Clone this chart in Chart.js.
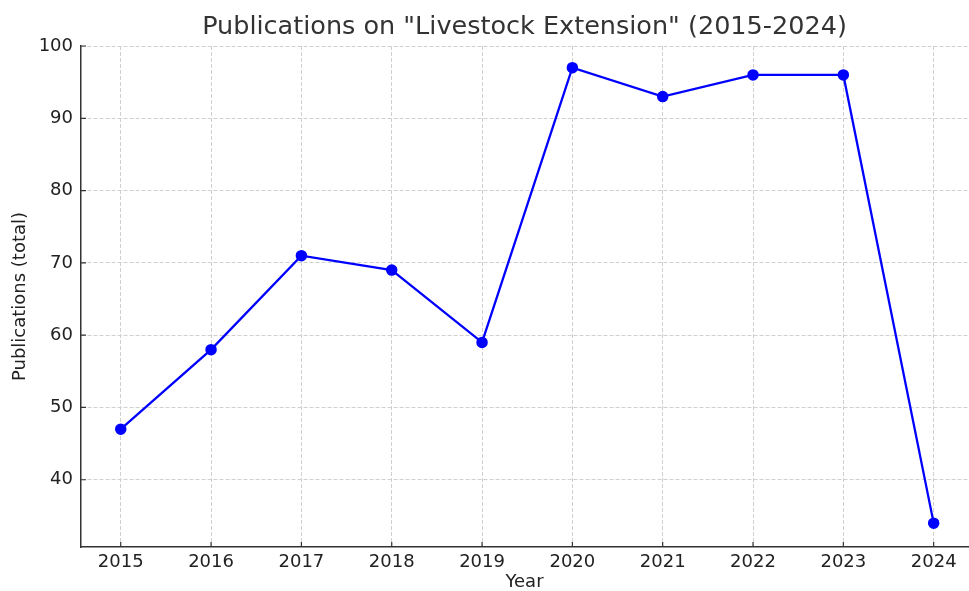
<!DOCTYPE html>
<html>
<head>
<meta charset="utf-8">
<script src="https://cdn.jsdelivr.net/npm/chart.js@4/dist/chart.umd.min.js"></script>
<style>
  html, body { margin: 0; padding: 0; background: #fff; }
  #wrap { width: 969px; height: 591px; }
</style>
</head>
<body>
<div id="wrap"><canvas id="pubChart"></canvas></div>
<script>
// Data
const years = [2015, 2016, 2017, 2018, 2019, 2020, 2021, 2022, 2023, 2024];
const publications = [47, 58, 71, 69, 59, 97, 93, 96, 96, 34];
const yTicks = [40, 50, 60, 70, 80, 90, 100];

const FONT = "'DejaVu Sans', sans-serif";
const AXIS = '#333333';

// matplotlib-style inward ticks
const inwardTicks = {
  id: 'inwardTicks',
  afterDraw(chart) {
    const {ctx, chartArea, scales} = chart;
    ctx.save();
    ctx.strokeStyle = AXIS;
    ctx.lineWidth = 1.2;
    ctx.beginPath();
    scales.x.ticks.forEach((t, i) => {
      const x = scales.x.getPixelForTick(i);
      ctx.moveTo(x, chartArea.bottom);
      ctx.lineTo(x, chartArea.bottom - 5);
    });
    scales.y.ticks.forEach((t, i) => {
      const y = scales.y.getPixelForTick(i);
      ctx.moveTo(chartArea.left, y);
      ctx.lineTo(chartArea.left + 5, y);
    });
    ctx.stroke();
    ctx.restore();
  }
};

const ctx = document.getElementById('pubChart').getContext('2d');
const myChart = new Chart(ctx, {
  type: 'line',
  data: {
    datasets: [{
      label: 'Publications',
      data: years.map((y, i) => ({x: y, y: publications[i]})),
      borderColor: '#0000ff',
      backgroundColor: '#0000ff',
      borderWidth: 2.3,
      pointRadius: 4.6,
      pointHoverRadius: 4.6,
      tension: 0
    }]
  },
  options: {
    responsive: true,
    maintainAspectRatio: false,
    animation: false,
    layout: { autoPadding: false, padding: { right: 1 } },
    plugins: {
      legend: { display: false },
      tooltip: { enabled: false },
      title: {
        display: true,
        text: 'Publications on "Livestock Extension" (2015-2024)',
        color: AXIS,
        fullSize: false,
        font: { family: FONT, size: 25.5, weight: 'normal', lineHeight: 1.2 },
        padding: { top: 12.5, bottom: 2.9 }
      }
    },
    scales: {
      x: {
        type: 'linear',
        min: 2014.56,
        max: 2024.38,
        afterBuildTicks: s => { s.ticks = years.map(v => ({value: v})); },
        afterFit: s => { s.height = 44; },
        grid: { color: '#d0d0d0', lineWidth: 1, drawTicks: false },
        border: { color: AXIS, width: 1.5, dash: [4, 2] },
        ticks: {
          color: '#222222',
          font: { family: FONT, size: 18 },
          padding: 5,
          maxRotation: 0,
          callback: v => String(v)
        },
        title: {
          display: true,
          text: 'Year',
          color: '#222222',
          font: { family: FONT, size: 18, lineHeight: 1.0 },
          padding: { top: 0, bottom: 0 }
        }
      },
      y: {
        min: 30.7,
        max: 100,
        afterBuildTicks: s => { s.ticks = yTicks.map(v => ({value: v})); },
        afterFit: s => { s.width = 81; },
        grid: { color: '#d0d0d0', lineWidth: 1, drawTicks: false },
        border: { color: AXIS, width: 1.5, dash: [4, 2] },
        ticks: {
          color: '#222222',
          font: { family: FONT, size: 18 },
          padding: 8
        },
        title: {
          display: true,
          text: 'Publications (total)',
          color: '#222222',
          font: { family: FONT, size: 18 },
          padding: { top: 10, bottom: 0 }
        }
      }
    }
  },
  plugins: [inwardTicks]
});
</script>
</body>
</html>
